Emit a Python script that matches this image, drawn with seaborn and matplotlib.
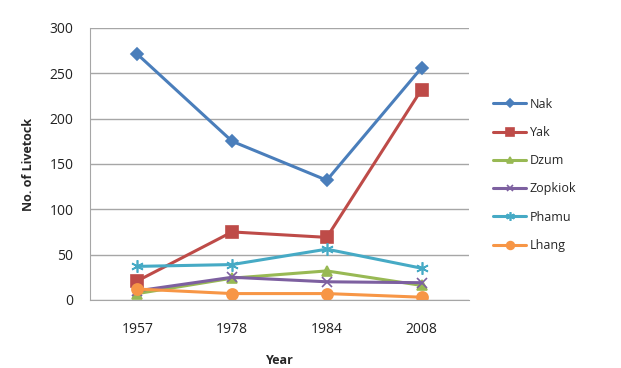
import numpy as np
import pandas as pd
import matplotlib
matplotlib.use("Agg")
import matplotlib.pyplot as plt
import seaborn as sns

# data
years = ["1957", "1978", "1984", "2008"]
nak = [271, 175, 132, 256]
yak = [21, 75, 69, 232]
dzum = [7, 24, 32, 16]
zopkiok = [10, 25, 20, 19]
phamu = [37, 39, 56, 35]
lhang = [12, 7, 7, 3]

series = {
    "Nak": nak,
    "Yak": yak,
    "Dzum": dzum,
    "Zopkiok": zopkiok,
    "Phamu": phamu,
    "Lhang": lhang,
}
colors = {
    "Nak": "#4A7EBB",
    "Yak": "#BE4B48",
    "Dzum": "#98B954",
    "Zopkiok": "#7D60A0",
    "Phamu": "#46AAC5",
    "Lhang": "#F79646",
}
markers = {
    "Nak": "D",
    "Yak": "s",
    "Dzum": "^",
    "Zopkiok": "x",
    "Phamu": (6, 2, 0),
    "Lhang": "o",
}
sizes = {"Nak": 6, "Yak": 8, "Dzum": 7, "Zopkiok": 7, "Phamu": 9, "Lhang": 8}

rows = []
for name, vals in series.items():
    for yr, v in zip(years, vals):
        rows.append({"Year": yr, "Count": v, "Animal": name})
df = pd.DataFrame(rows)

sns.set_style("white")
plt.rcParams["font.family"] = ["Open Sans", "DejaVu Sans"]

fig = plt.figure(figsize=(6.21, 3.68), dpi=100)
ax = fig.add_axes([0.145, 0.185, 0.61, 0.739])

for name in series:
    sub = df[df["Animal"] == name]
    sns.lineplot(data=sub, x="Year", y="Count", ax=ax, color=colors[name],
                 marker=markers[name], markersize=sizes[name], linewidth=2.2,
                 markeredgecolor=colors[name], markeredgewidth=1.2,
                 label=name, sort=False)

ax.set_xlim(-0.5, 3.5)
ax.set_ylim(0, 300)
ax.set_yticks(np.arange(0, 301, 50))
ax.yaxis.grid(True, color="#a6a6a6", linewidth=1)
ax.set_axisbelow(True)
for side in ["top", "right"]:
    ax.spines[side].set_visible(False)
ax.spines["left"].set_color("#a6a6a6")
ax.spines["bottom"].set_color("#a6a6a6")
ax.tick_params(axis="both", labelsize=10, length=0, colors="#222222")
ax.tick_params(axis="y", pad=12)
ax.tick_params(axis="x", pad=16)
ax.set_xlabel("Year", fontsize=9, fontweight="bold", labelpad=12)
ax.set_ylabel("No. of Livetock", fontsize=9, fontweight="bold", labelpad=10)

ax.legend(loc="center left", bbox_to_anchor=(1.035, 0.46), frameon=False,
          fontsize=9, handlelength=2.6, labelspacing=1.22, handletextpad=0.3,
          markerscale=0.7)

fig.savefig("out.png", dpi=100)
